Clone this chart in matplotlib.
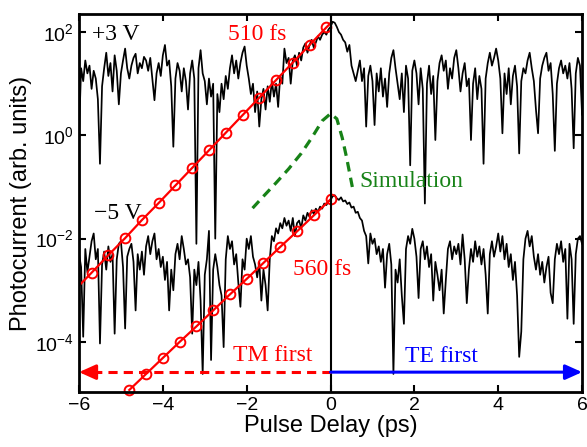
import numpy as np
import matplotlib
matplotlib.use('Agg')
import matplotlib.pyplot as plt

# pulse delay grid (ps), 0.05 ps steps
delay = np.round(np.arange(-6.0, 6.0001, 0.05), 2)

# log10 photocurrent, +3 V trace
top_log = [
    0.05, 1.30, 1.05, 1.45, 1.20, 1.35, 0.90, 1.25, 1.10, 0.70, -0.55, 0.95, 1.30, 1.60, 1.15, 1.40, 0.85, 1.55, 1.25, 0.60,
    1.20, 1.45, 1.68, 1.30, 1.10, 1.35, 1.50, 1.58, 1.20, 1.40, 1.30, 1.52, 1.45, 1.25, 1.50, 1.10, 0.68, 1.20, 1.40, 1.15,
    1.55, 1.75, 1.35, 1.45, 0.95, -0.22, 1.10, 1.40, 1.25, 0.85, 1.30, 1.05, 0.50, 1.20, 1.45, 1.10, -2.10, 1.30, 1.65, 1.20,
    1.05, 0.60, 1.10, 0.75, 1.00, -2.00, 0.80, 0.45, 1.00, 0.70, 1.15, 0.90, 1.30, 1.55, 1.20, 1.45, 1.10, 1.40, 1.60, 1.72,
    1.35, 1.10, 0.80, 1.00, 0.45, 0.85, 0.17, 0.70, 0.90, 0.50, 0.95, 0.65, 1.05, 0.75, 1.00, 0.55, 1.15, 1.00, 1.68, 1.40,
    1.50, 1.00, 1.45, 1.55, 1.35, 1.60, 1.45, 1.70, 1.78, 1.60, 1.75, 1.85, 1.70, 1.80, 1.92, 1.85, 1.95, 2.00, 1.95, 2.05,
    2.10, 2.20, 2.18, 2.10, 2.00, 1.95, 1.85, 1.80, 1.62, 1.75, 1.35, 1.20, 1.05, 1.25, 1.45, 1.05, 1.30, 0.17, 1.15, 1.35,
    1.05, 0.20, 1.20, 0.85, 1.30, 0.75, 1.10, 0.55, 1.20, 1.50, 1.65, 1.30, 1.00, 0.70, 1.20, 0.45, 1.35, 1.10, -0.58, 1.25,
    1.45, 1.20, 0.60, 1.30, 0.90, -1.32, 1.00, 1.35, 0.80, 1.15, -0.09, 1.05, 1.40, 1.55, 1.25, 1.45, 0.90, 1.30, 1.10, 1.50,
    1.65, 1.30, 0.85, 1.20, 1.40, 0.95, 1.10, -0.09, 1.00, 1.30, 0.70, 1.15, 0.90, -0.55, 1.10, 1.40, 1.60, 1.35, 1.50, 1.68,
    1.45, 1.10, 0.04, 1.20, 0.80, 1.30, 0.60, 1.15, 1.35, 0.95, -0.35, 1.05, 1.30, 1.20, 1.45, 1.60, 1.30, 1.05, 0.50, 0.04,
    1.10, 1.35, 1.50, 1.60, 1.25, 1.40, 0.80, -0.30, 1.00, 1.30, 1.45, 1.20, 1.35, 1.10, 1.40, 0.90, -0.25, 1.20, 1.50, 1.35,
    0.40,
]

# log10 photocurrent, -5 V trace
bot_log = [
    -2.30, -2.55, -3.90, -2.20, -2.65, -2.35, -2.05, -1.90, -2.40, -2.20, -4.03, -2.50, -2.25, -2.60, -2.15, -2.45, -2.30, -3.84, -2.40, -2.10,
    -2.05, -2.55, -3.74, -2.35, -2.20, -2.10, -2.45, -3.39, -2.30, -2.60, -2.25, -2.70, -2.15, -1.95, -2.30, -2.05, -1.90, -2.40, -2.20, -2.55,
    -2.35, -2.80, -2.45, -3.39, -2.60, -3.00, -2.30, -2.10, -2.40, -1.95, -2.20, -2.50, -2.40, -2.75, -3.84, -2.60, -2.90, -2.45, -3.20, -4.62,
    -2.70, -2.40, -1.85, -4.35, -2.60, -2.30, -2.55, -2.90, -3.10, -4.10, -2.40, -1.95, -2.20, -2.05, -2.50, -2.30, -2.85, -3.32, -2.40, -2.60,
    -2.00, -2.20, -1.95, -2.35, -2.50, -2.75, -2.45, -3.20, -2.60, -2.90, -3.39, -2.40, -1.95, -2.05, -1.80, -1.90, -1.70, -1.80, -1.60, -1.75,
    -1.65, -1.85, -1.60, -1.95, -1.70, -1.65, -1.80, -1.55, -1.65, -1.50, -1.58, -1.45, -1.52, -1.42, -1.48, -1.38, -1.42, -1.32, -1.35, -1.28,
    -1.25, -1.18, -1.16, -1.22, -1.25, -1.20, -1.28, -1.26, -1.33, -1.30, -1.40, -1.38, -1.50, -1.48, -1.60, -1.65, -1.85, -1.95, -2.48, -1.90,
    -2.10, -2.00, -2.30, -2.15, -2.45, -2.20, -2.95, -2.30, -2.10, -2.50, -4.62, -2.60, -2.85, -2.40, -3.10, -3.65, -2.20, -1.95, -2.10, -1.81,
    -2.00, -2.35, -3.15, -2.20, -2.05, -2.40, -2.15, -2.55, -2.30, -3.20, -2.45, -2.70, -3.00, -2.60, -3.45, -2.80, -2.20, -2.05, -2.40, -2.15,
    -2.30, -2.10, -2.50, -1.92, -2.40, -3.25, -2.60, -2.20, -2.45, -2.05, -2.35, -2.15, -2.50, -2.20, -2.70, -3.45, -2.30, -2.05, -2.35, -2.15,
    -1.90, -2.25, -1.95, -2.40, -2.10, -2.55, -2.30, -2.80, -2.45, -3.10, -4.29, -3.80, -2.40, -2.00, -1.85, -2.15, -1.95, -2.35, -2.60, -2.30,
    -2.70, -2.45, -2.85, -2.55, -2.35, -3.05, -3.25, -2.40, -2.10, -2.30, -2.05, -2.45, -2.20, -3.55, -2.10, -2.40, -3.65, -2.30, -2.00, -1.95,
    -2.10,
]

# exponential fits (log10), circles every 0.4 ps
fit1_x = [-6.0, -5.7, -5.3, -4.9, -4.5, -4.1, -3.7, -3.3, -2.9, -2.5, -2.1, -1.7, -1.3, -0.9, -0.5, -0.1, 0.0]
fit1_log = [-2.91, -2.66, -2.32, -1.99, -1.64, -1.31, -0.97, -0.63, -0.29, 0.05, 0.39, 0.73, 1.07, 1.41, 1.75, 2.09, 2.17]
fit2_x = [-4.8, -4.4, -4.0, -3.6, -3.2, -2.8, -2.4, -2.0, -1.6, -1.2, -0.8, -0.4, 0.0]
fit2_log = [-4.93, -4.62, -4.31, -4.00, -3.70, -3.39, -3.08, -2.78, -2.47, -2.16, -1.86, -1.55, -1.24]

# simulation curve
sim_x = [-1.86, -1.6, -1.3, -1.0, -0.7, -0.45, -0.2, 0.0, 0.15, 0.28, 0.38, 0.46, 0.52]
sim_log = [-1.41, -1.18, -0.92, -0.65, -0.35, -0.05, 0.28, 0.42, 0.32, -0.05, -0.42, -0.75, -1.0]

arrow_y = 2.6e-5

plt.rcParams['font.family'] = ['Liberation Sans', 'DejaVu Sans']
plt.rcParams['mathtext.default'] = 'regular'
serif = ['Liberation Serif', 'DejaVu Serif']
green = '#178217'

fig = plt.figure(figsize=(5.87, 4.47), dpi=100)
ax = fig.add_axes([0.1346, 0.123, 0.857, 0.8457])

ax.plot(delay, 10 ** np.array(top_log), color='black', lw=1.25)
ax.plot(delay, 10 ** np.array(bot_log), color='black', lw=1.25)

ax.plot(fit1_x, 10 ** np.array(fit1_log), color='red', lw=1.6, marker='o', mfc='none',
        mec='red', ms=7, mew=1.4, markevery=list(range(1, len(fit1_x) - 1)))
ax.plot(fit2_x, 10 ** np.array(fit2_log), color='red', lw=1.6, marker='o', mfc='none',
        mec='red', ms=7, mew=1.4, clip_on=False)

ax.plot(sim_x, 10 ** np.array(sim_log), color=green, lw=2.3, ls=(0, (3, 2)))

ax.axvline(0, color='black', lw=1.5)

# TM first / TE first arrows
ax.plot([0, -5.7], [arrow_y, arrow_y], color='red', lw=2.2, ls=(0, (3, 2)))
ax.annotate('', xy=(-6, arrow_y), xytext=(-5.6, arrow_y),
            arrowprops=dict(arrowstyle='-|>,head_length=1.0,head_width=0.45', color='red', lw=2.2,
                            shrinkA=0, shrinkB=0), annotation_clip=False)
ax.annotate('', xy=(6, arrow_y), xytext=(0, arrow_y),
            arrowprops=dict(arrowstyle='-|>,head_length=1.0,head_width=0.45', color='blue', lw=2.2,
                            shrinkA=0, shrinkB=0), annotation_clip=False)

ax.text(-5.69, 10 ** 1.95, '+3 V', family=serif, fontsize=17, va='center', ha='left')
ax.text(-1.74, 10 ** 1.96, '510 fs', family=serif, fontsize=17, va='center', ha='center', color='red')
ax.text(-5.64, 10 ** -1.52, '\u22125 V', family=serif, fontsize=17, va='center', ha='left')
ax.text(-0.20, 10 ** -2.60, '560 fs', family=serif, fontsize=17, va='center', ha='center', color='red')
ax.text(0.69, 10 ** -0.90, 'Simulation', family=serif, fontsize=17, va='center', ha='left', color=green)
ax.text(-1.39, 10 ** -4.26, 'TM first', family=serif, fontsize=17, va='center', ha='center', color='red')
ax.text(2.64, 10 ** -4.28, 'TE first', family=serif, fontsize=17, va='center', ha='center', color='blue')

ax.set_yscale('log')
ax.set_xlim(-6, 6)
ax.set_ylim(10 ** -4.97, 10 ** 2.35)
ax.set_xticks([-6, -4, -2, 0, 2, 4, 6])
ax.set_yticks([1e-4, 1e-2, 1e0, 1e2])
ax.set_yticklabels(['$10^{\u22124}$', '$10^{\u22122}$', '$10^{0}$', '$10^{2}$'])
ax.yaxis.set_minor_locator(matplotlib.ticker.NullLocator())
ax.tick_params(direction='in', top=True, right=True, length=5, width=1.5, labelsize=14)
for s in ax.spines.values():
    s.set_linewidth(2.0)

ax.set_xlabel('Pulse Delay (ps)', fontsize=17, labelpad=1)
ax.set_ylabel('Photocurrent (arb. units)', fontsize=17, labelpad=2)

plt.savefig('out.png', dpi=100)
